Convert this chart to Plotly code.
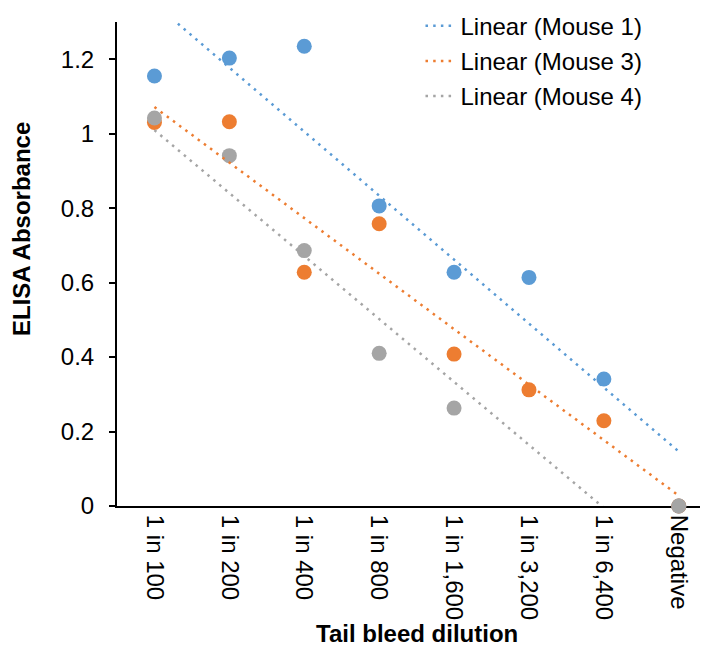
import numpy as np
import plotly.graph_objects as go

categories = ["1 in 100", "1 in 200", "1 in 400", "1 in 800", "1 in 1,600", "1 in 3,200", "1 in 6,400", "Negative"]
mouse1 = [1.155, 1.203, 1.235, 0.806, 0.628, 0.614, 0.341, 0.0]
mouse3 = [1.030, 1.032, 0.628, 0.758, 0.408, 0.312, 0.229, 0.0]
mouse4 = [1.042, 0.941, 0.686, 0.410, 0.263, None, None, 0.0]
series_names = ["Mouse 1", "Mouse 3", "Mouse 4"]
colors = ["#5B9BD5", "#ED7D31", "#A5A5A5"]
y_ticks = [0, 0.2, 0.4, 0.6, 0.8, 1.0, 1.2]
y_tick_labels = ["0", "0.2", "0.4", "0.6", "0.8", "1", "1.2"]

FONT = "Liberation Sans, Arial, sans-serif"
idx = np.arange(len(categories))

fig = go.Figure()
all_series = [mouse1, mouse3, mouse4]

for name, vals, col in zip(series_names, all_series, colors):
    fig.add_trace(go.Scatter(
        x=idx, y=vals, mode="markers", name=name, showlegend=False,
        marker=dict(size=15, color=col, line=dict(width=0)),
        cliponaxis=False,
    ))

for name, vals, col in zip(series_names, all_series, colors):
    # Excel-style linear trendline over category index (blank cells counted as 0)
    yv = np.array([0.0 if v is None else v for v in vals])
    xv = idx + 1
    slope, intercept = np.polyfit(xv, yv, 1)
    fit = slope * xv + intercept
    fig.add_trace(go.Scatter(
        x=idx, y=fit, mode="lines", name="Linear (" + name + ")",
        legendgroup=name,
        line=dict(color=col, width=2.5, dash="2.5px,5.2px"),
        hoverinfo="skip",
    ))

fig.update_layout(
    width=700, height=640,
    margin=dict(l=109, r=0, t=14, b=142, autoexpand=False),
    paper_bgcolor="white", plot_bgcolor="white",
    font=dict(family=FONT, size=24, color="#000000"),
    showlegend=True,
    legend=dict(x=0.5135, y=1.038, xanchor="left", yanchor="top",
                font=dict(family=FONT, size=24, color="#000000"),
                bgcolor="rgba(0,0,0,0)", tracegroupgap=1),
    xaxis=dict(
        range=[-0.5, 7.39], tickmode="array", tickvals=list(idx), ticktext=categories,
        tickangle=90, showgrid=False, zeroline=False, showline=True,
        linecolor="#000000", linewidth=2, ticks="", layer="below traces",
        tickfont=dict(family=FONT, size=24, color="#000000"),
        ticklabelstandoff=2, automargin=False,
    ),
    yaxis=dict(
        range=[0, 1.3], tickmode="array", tickvals=y_ticks, ticktext=y_tick_labels,
        showgrid=False, zeroline=False, showline=True,
        linecolor="#000000", linewidth=2, ticks="outside", ticklen=6,
        tickwidth=2, tickcolor="#000000", layer="below traces",
        tickfont=dict(family=FONT, size=24, color="#000000"),
        ticklabelstandoff=10, automargin=False,
    ),
    annotations=[
        dict(text="<b>ELISA Absorbance</b>", xref="paper", yref="paper",
             x=(22 - 117) / 591, y=(506 - 229) / 484, xanchor="center", yanchor="middle",
             textangle=-90, showarrow=False, font=dict(family=FONT, size=24, color="#000000")),
        dict(text="<b>Tail bleed dilution</b>", xref="paper", yref="paper",
             x=(417.5 - 117) / 591, y=(506 - 633) / 484, xanchor="center", yanchor="middle",
             showarrow=False, font=dict(family=FONT, size=24, color="#000000")),
    ],
)

fig.write_html("out.html")
